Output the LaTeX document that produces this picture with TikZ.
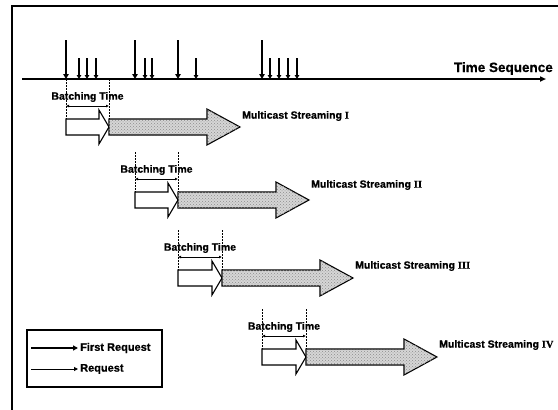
\documentclass[tikz,border=0pt]{standalone}
\usepackage{fontspec}
\setmainfont{Liberation Sans}[BoldFeatures={FakeBold=0.7}]
\newfontfamily\numfont{Liberation Serif}[BoldFeatures={FakeBold=0.7}]
\usetikzlibrary{arrows.meta,patterns}
\begin{document}
\begin{tikzpicture}[x=1pt,y=-1pt,
  lbl/.style={font=\bfseries\fontsize{10.5}{12}\selectfont, inner sep=0pt},
  firstreq/.style={line width=2.4pt, -{Triangle[length=5pt,width=5.5pt]}},
  req/.style={line width=1.4pt, -{Triangle[length=4pt,width=4.5pt]}},
  guide/.style={line width=0.8pt, dash pattern=on 2pt off 1pt},
  span/.style={line width=0.8pt, {Latex[length=3pt,width=3pt]}-{Latex[length=3pt,width=3pt]}},
  waitbox/.style={draw, line width=1.1pt, fill=white, line join=miter},
  streambox/.style={draw, line width=1.1pt, fill=black!16, line join=miter,
    postaction={pattern=crosshatch dots, pattern color=black!45}}]
\useasboundingbox (0,0) rectangle (558,410);

% outer frame
\draw[line width=1.3pt] (12,414) -- (12,6) -- (562,6);

% time axis
\coordinate (t0) at (22,79);
\coordinate (t1) at (546,79);
\draw[line width=2pt, -{Triangle[length=6pt,width=5pt]}] (t0) -- (t1);
\node[anchor=base east, font=\bfseries\fontsize{13.5}{15}\selectfont, inner sep=0pt]
  (seq) at (553,72) {Time Sequence};

% first requests (long arrows)
\foreach \x [count=\k] in {66,135,178,262}{
  \coordinate (fa\k) at (\x,40);
  \coordinate (fb\k) at (\x,79);
  \draw[firstreq] (fa\k) -- (fb\k);
}
% further requests (short arrows)
\foreach \x [count=\k] in {79,87,96,145,152,196,270,279,288,297}{
  \coordinate (ra\k) at (\x,58);
  \coordinate (rb\k) at (\x,79);
  \draw[req] (ra\k) -- (rb\k);
}

% batching windows and the multicast streams they start
\foreach \xa/\xb/\yc/\top/\num/\ly [count=\k] in
  {66/109/127/79/I/116, 135/178/200/152/II/185, 178/222/278/230/III/266, 262/306/357/309/IV/345}{
  \coordinate (ga\k) at (\xa,\top);
  \coordinate (gb\k) at (\xb,\top);
  \coordinate (ha\k) at (\xa,\yc-8);
  \coordinate (hb\k) at (\xb,\yc-8);
  \draw[guide] (ga\k) -- (ha\k);
  \draw[guide] (gb\k) -- (hb\k);
  \coordinate (sa\k) at (\xa,\yc-21);
  \coordinate (sb\k) at (\xb,\yc-21);
  \draw[span] (sa\k) -- (sb\k);
  \node[lbl] (bt\k) at ({(\xa+\xb)/2},\yc-30) {Batching Time};
  % waiting part
  \draw[waitbox] (\xa,\yc-8) -- (\xb-10,\yc-8) -- (\xb-10,\yc-17) -- (\xb,\yc)
    -- (\xb-10,\yc+17) -- (\xb-10,\yc+8) -- (\xa,\yc+8) -- cycle;
  % streaming part
  \draw[streambox] (\xb,\yc-8) -- (\xb+98,\yc-8) -- (\xb+98,\yc-18) -- (\xb+131,\yc)
    -- (\xb+98,\yc+18) -- (\xb+98,\yc+8) -- (\xb,\yc+8) -- cycle;
  \node[lbl, anchor=west] (ms\k) at (\xb+133,\ly) {Multicast Streaming {\numfont\bfseries\num}};
}

% legend
\node[draw, line width=1.1pt, minimum width=135pt, minimum height=57pt, inner sep=0pt]
  (legend) at (94.5,358.5) {};
\coordinate (la) at (31,348);
\coordinate (lb) at (78,348);
\coordinate (lc) at (31,369);
\coordinate (ld) at (78,369);
\draw[line width=2pt, -{Triangle[length=5pt,width=5pt]}] (la) -- (lb);
\draw[line width=1pt, -{Triangle[length=4pt,width=4pt]}] (lc) -- (ld);
\node[lbl, anchor=west, font=\bfseries\fontsize{11}{12}\selectfont] (l1) at (80,348) {First Request};
\node[lbl, anchor=west, font=\bfseries\fontsize{11}{12}\selectfont] (l2) at (80,369) {Request};
\end{tikzpicture}
\end{document}
